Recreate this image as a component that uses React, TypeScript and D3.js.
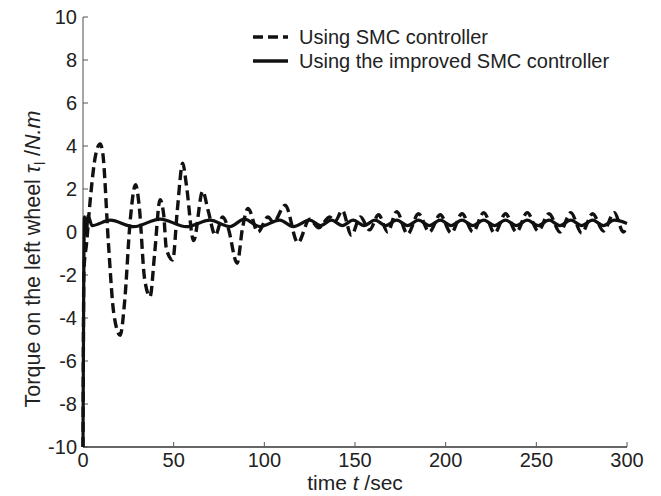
import React from "react";
import * as d3 from "d3";

// Dashed series: Using SMC controller (time, torque)
const smcTime = [0, 0.5, 2, 4, 7, 9.5, 11, 14, 17, 20.5, 23, 26, 29, 31, 34, 37, 39.5, 42.5, 44.5, 46, 49.5, 52, 55, 57, 61, 66, 69, 73, 77, 80, 85, 88, 91, 96.5, 102, 105, 111.5, 118.5, 125, 130, 136, 139, 143, 148, 153, 158, 163, 168, 173, 179, 185, 191, 197, 203, 209, 215, 221, 227, 233, 239, 245, 251, 257, 263, 269, 275, 281, 287, 293, 298, 300];
const smcTorque = [-10, -1.8, -0.5, 1.5, 3.6, 4.1, 3.6, -0.5, -3.8, -4.8, -3.2, 0.5, 2.2, 1.2, -2.2, -3.0, -1.0, 1.5, 0.8, -0.8, -1.3, 1.0, 3.2, 2.2, -0.4, 1.9, 1.0, -0.15, 0.7, 0.2, -1.45, 0.2, 1.1, 0.0, 0.7, 0.45, 1.25, -0.5, 0.6, 0.2, 0.7, 0.5, 1.0, -0.15, 0.7, 0.1, 0.8, 0.0, 0.95, -0.1, 0.85, 0.0, 0.8, -0.05, 0.85, 0.0, 0.9, -0.05, 0.85, 0.0, 0.9, 0.05, 0.85, 0.0, 0.9, -0.05, 0.85, 0.05, 0.9, 0.0, 0.3];

// Solid series: Using the improved SMC controller
const impTime = [0, 0.8, 1.8, 2.8, 5, 15, 28, 42.5, 57, 70, 81, 89, 97.5, 108.5, 116, 125, 131, 137, 143, 149, 155, 161, 167, 173, 179, 185, 191, 197, 203, 209, 215, 221, 227, 233, 239, 245, 251, 257, 263, 269, 275, 281, 287, 293, 300];
const impTorque = [-10, 0.7, -0.1, 0.75, 0.3, 0.55, 0.25, 0.6, 0.25, 0.55, 0.25, 0.6, 0.25, 0.55, 0.25, 0.55, 0.3, 0.55, 0.3, 0.55, 0.3, 0.55, 0.3, 0.55, 0.3, 0.55, 0.3, 0.55, 0.3, 0.55, 0.3, 0.55, 0.3, 0.55, 0.3, 0.55, 0.3, 0.55, 0.3, 0.55, 0.3, 0.55, 0.3, 0.55, 0.4];

const xTicks = [0, 50, 100, 150, 200, 250, 300];
const yTicks = [-10, -8, -6, -4, -2, 0, 2, 4, 6, 8, 10];
const legendLabels = ["Using SMC controller", "Using the improved SMC controller"];

const W = 661, H = 496;
const M = { left: 83, right: 34, top: 17, bottom: 49 };
const FONT = "Liberation Sans, Arial, Helvetica, sans-serif";

export default function App() {
  const x = d3.scaleLinear().domain([0, 300]).range([M.left, W - M.right]);
  const y = d3.scaleLinear().domain([-10, 10]).range([H - M.bottom, M.top]);
  const line = d3.line<[number, number]>().x(d => x(d[0])).y(d => y(d[1])).curve(d3.curveMonotoneX);
  const smcPts = smcTime.map((t, i) => [t, smcTorque[i]] as [number, number]);
  const impPts = impTime.map((t, i) => [t, impTorque[i]] as [number, number]);
  const x0 = x(0), y0 = y(-10);

  return (
    <svg width={W} height={H} style={{ position: "absolute", left: 0, top: 0, background: "#fff" }} fontFamily={FONT}>
      <rect width={W} height={H} fill="#fff" />
      {/* axes */}
      <line x1={x0} x2={x(300)} y1={y0} y2={y0} stroke="#333" strokeWidth={1.3} />
      <line x1={x0} x2={x0} y1={y0} y2={y(10)} stroke="#777" strokeWidth={1.3} />
      {xTicks.map(t => (
        <g key={"x" + t}>
          <line x1={x(t)} x2={x(t)} y1={y0} y2={y0 - 5} stroke="#555" strokeWidth={1} />
          <text x={x(t)} y={467} textAnchor="middle" fontSize={20} fill="#222">{t}</text>
        </g>
      ))}
      {yTicks.map(v => (
        <g key={"y" + v}>
          <line x1={x0} x2={x0 + 5} y1={y(v)} y2={y(v)} stroke="#555" strokeWidth={1} />
          <text x={77} y={y(v)} dy="0.36em" textAnchor="end" fontSize={20} fill="#222">{v}</text>
        </g>
      ))}
      {/* data */}
      <path d={line(impPts) || ""} fill="none" stroke="#111" strokeWidth={3.2} strokeLinejoin="round" />
      <path d={line(smcPts) || ""} fill="none" stroke="#111" strokeWidth={3.4} strokeDasharray="10 5" />
      {/* legend */}
      <line x1={253} x2={288} y1={37} y2={37} stroke="#111" strokeWidth={3.4} strokeDasharray="10 5" />
      <line x1={253} x2={288} y1={61} y2={61} stroke="#111" strokeWidth={3.4} />
      <text x={299} y={44} fontSize={20} fill="#222">{legendLabels[0]}</text>
      <text x={299} y={68} fontSize={20} fill="#222">{legendLabels[1]}</text>
      {/* axis labels */}
      <text x={(x0 + x(300)) / 2} y={490} textAnchor="middle" fontSize={21} fill="#222">
        time <tspan fontStyle="italic">t</tspan> /sec
      </text>
      <text transform={`translate(40,259) rotate(-90)`} textAnchor="middle" fontSize={21.5} fill="#222">
        Torque on the left wheel <tspan fontStyle="italic">τ</tspan><tspan fontSize={14} dy={5}>l</tspan><tspan dy={-5}> /</tspan><tspan fontStyle="italic">N.m</tspan>
      </text>
    </svg>
  );
}
